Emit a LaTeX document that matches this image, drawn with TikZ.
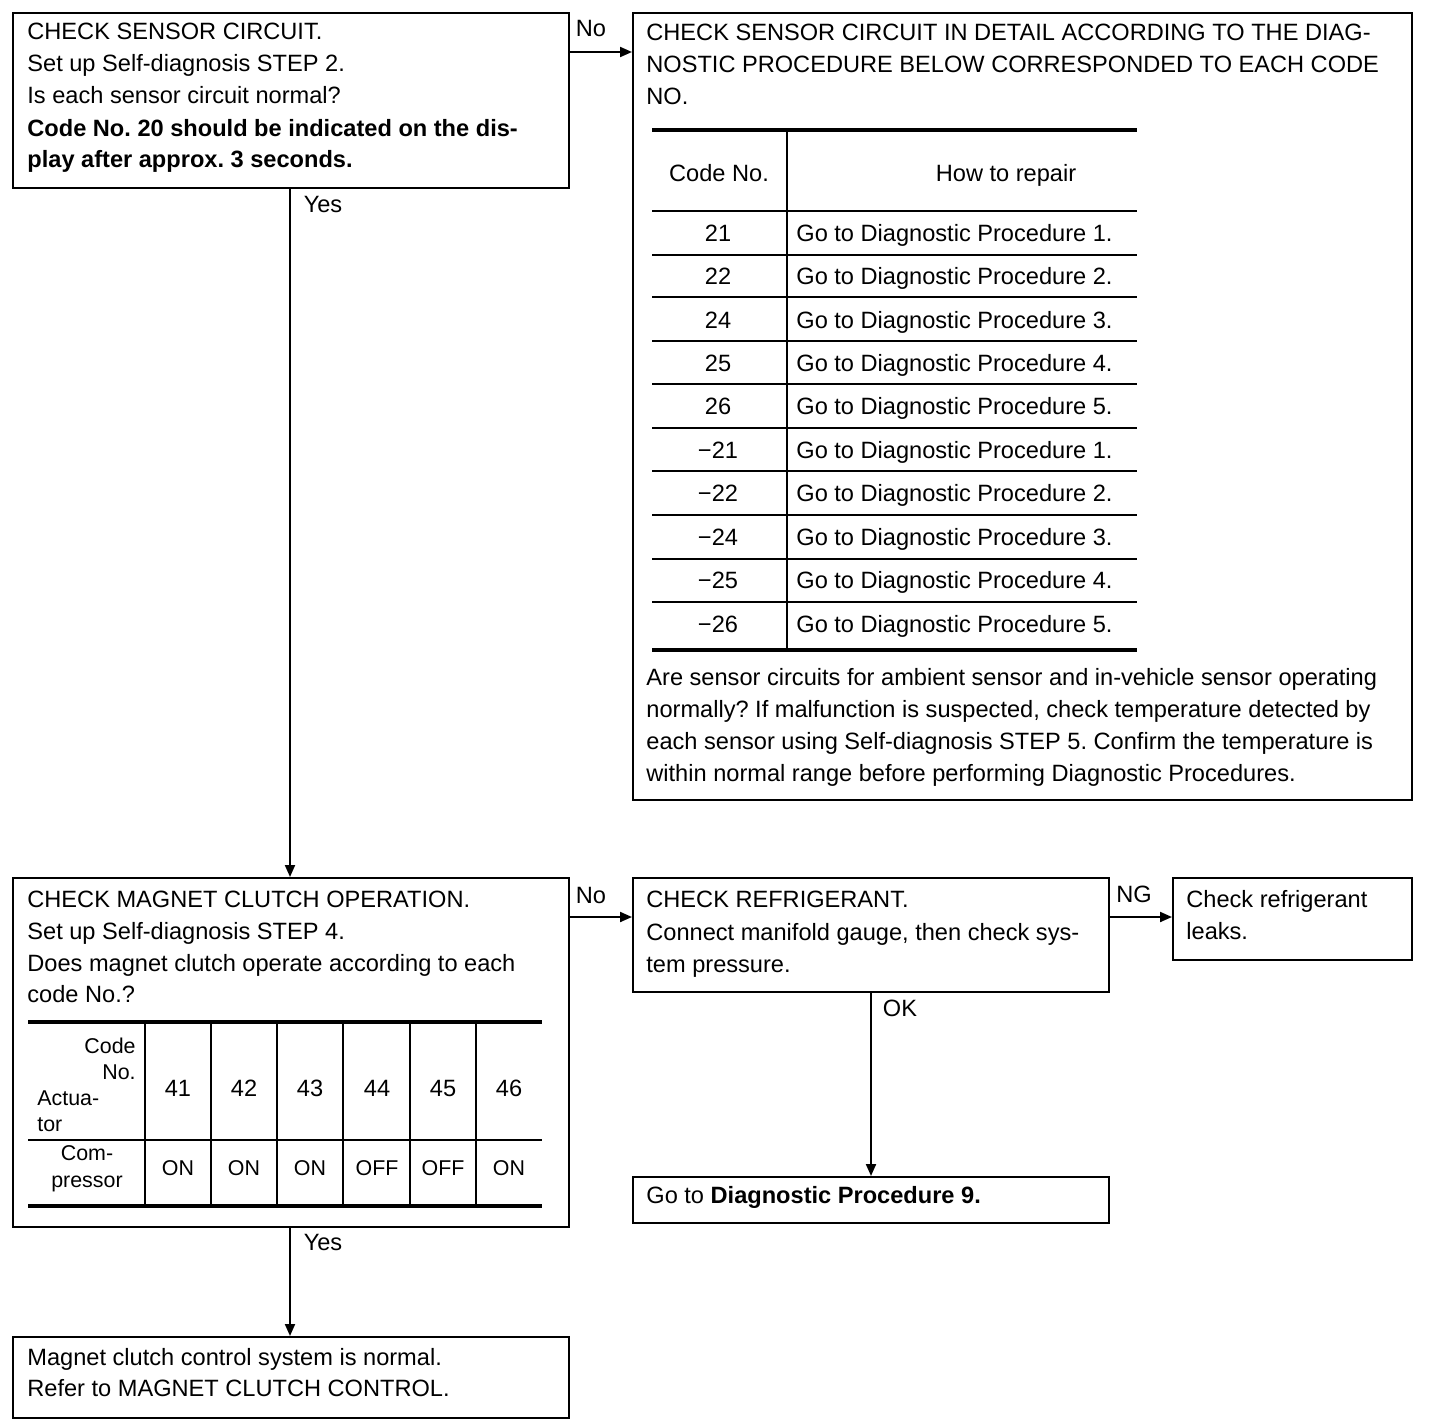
\documentclass[tikz,border=0pt]{standalone}
\usepackage{fontspec}
\setmainfont{Liberation Sans}
\usetikzlibrary{arrows.meta}
\begin{document}
\frenchspacing
\begin{tikzpicture}[x=0.5pt,y=-0.5pt,
 box/.style={draw, line width=1pt, anchor=north west, inner sep=0pt},
 tx/.style={anchor=base west, inner sep=0pt, font=\fontsize{11.8}{16}\selectfont},
 txb/.style={anchor=base west, inner sep=0pt, font=\fontsize{11.8}{16}\selectfont\bfseries},
 tc/.style={anchor=base, inner sep=0pt, font=\fontsize{11.8}{16}\selectfont},
 sm/.style={anchor=base, inner sep=0pt, font=\fontsize{10.7}{13}\selectfont},
 dg/.style={anchor=base, inner sep=0pt, font=\fontsize{11.8}{13}\selectfont},
 arr/.style={line width=1pt, -{Triangle[length=6pt,width=5pt]}},
 lab/.style={anchor=base, inner sep=0pt, font=\fontsize{11.8}{16}\selectfont},
 thk/.style={line width=2pt},
 mid/.style={line width=1.3pt},
 thn/.style={line width=0.7pt}]
\useasboundingbox (0,0) rectangle (1440,1424);

% boxes
\node[box, minimum width=278pt, minimum height=87.5pt] (b1) at (12,12) {};
\node[box, minimum width=389.5pt, minimum height=393.5pt] (b2) at (632,12) {};
\node[box, minimum width=278pt, minimum height=174.5pt] (b3) at (12,877) {};
\node[box, minimum width=238pt, minimum height=57pt] (b4) at (632,877) {};
\node[box, minimum width=119.5pt, minimum height=41pt] (b5) at (1172,877) {};
\node[box, minimum width=238pt, minimum height=23pt] (b6) at (632,1176) {};
\node[box, minimum width=278pt, minimum height=40.5pt] (b7) at (12,1336) {};

% box 1 text
\node[tx] (t1a) at (27,39.5) {CHECK SENSOR CIRCUIT.};
\node[tx] (t1b) at (27,71.5) {Set up Self-diagnosis STEP 2.};
\node[tx] (t1c) at (27,103.5) {Is each sensor circuit normal?};
\node[txb] (t1d) at (27,136.5) {Code No. 20 should be indicated on the dis-};
\node[txb] (t1e) at (27,167.5) {play after approx. 3 seconds.};

% box 2 text
\node[tx] (t2a) at (646,40.5) {CHECK SENSOR CIRCUIT IN DETAIL ACCORDING TO THE DIAG-};
\node[tx] (t2b) at (646,72.5) {NOSTIC PROCEDURE BELOW CORRESPONDED TO EACH CODE};
\node[tx] (t2c) at (646,104.5) {NO.};

% table in box 2
\draw[thk] (652,130) -- (1137,130);
\draw[thn] (652,211) -- (1137,211);
\draw[thn] (652,255) -- (1137,255);
\draw[mid] (652,297) -- (1137,297);
\draw[mid] (652,341) -- (1137,341);
\draw[thn] (652,384) -- (1137,384);
\draw[thn] (652,428) -- (1137,428);
\draw[mid] (652,471) -- (1137,471);
\draw[thn] (652,515) -- (1137,515);
\draw[thn] (652,559) -- (1137,559);
\draw[thn] (652,602) -- (1137,602);
\draw[thk] (652,650) -- (1137,650);
\draw[line width=1.1pt] (787,130) -- (787,650);

\node[tc] (h1) at (719,181.5) {Code No.};
\node[tc] (h2) at (1006,181.5) {How to repair};

\node[tc] (k1) at (718,241.5) {21};
\node[tc] (k2) at (718,284.5) {22};
\node[tc] (k3) at (718,328.5) {24};
\node[tc] (k4) at (718,371.5) {25};
\node[tc] (k5) at (718,414.5) {26};
\node[tc] (k6) at (718,458.5) {−21};
\node[tc] (k7) at (718,501.5) {−22};
\node[tc] (k8) at (718,545.5) {−24};
\node[tc] (k9) at (718,588.5) {−25};
\node[tc] (k10) at (718,632.5) {−26};

\node[tx] (r1) at (796,241.5) {Go to Diagnostic Procedure 1.};
\node[tx] (r2) at (796,284.5) {Go to Diagnostic Procedure 2.};
\node[tx] (r3) at (796,328.5) {Go to Diagnostic Procedure 3.};
\node[tx] (r4) at (796,371.5) {Go to Diagnostic Procedure 4.};
\node[tx] (r5) at (796,414.5) {Go to Diagnostic Procedure 5.};
\node[tx] (r6) at (796,458.5) {Go to Diagnostic Procedure 1.};
\node[tx] (r7) at (796,501.5) {Go to Diagnostic Procedure 2.};
\node[tx] (r8) at (796,545.5) {Go to Diagnostic Procedure 3.};
\node[tx] (r9) at (796,588.5) {Go to Diagnostic Procedure 4.};
\node[tx] (r10) at (796,632.5) {Go to Diagnostic Procedure 5.};

\node[tx] (p1) at (646,685.5) {Are sensor circuits for ambient sensor and in-vehicle sensor operating};
\node[tx] (p2) at (646,717.5) {normally? If malfunction is suspected, check temperature detected by};
\node[tx] (p3) at (646,749.5) {each sensor using Self-diagnosis STEP 5. Confirm the temperature is};
\node[tx] (p4) at (646,781.5) {within normal range before performing Diagnostic Procedures.};

% box 3 text
\node[tx] (t3a) at (27,907.5) {CHECK MAGNET CLUTCH OPERATION.};
\node[tx] (t3b) at (27,939.5) {Set up Self-diagnosis STEP 4.};
\node[tx] (t3c) at (27,971.5) {Does magnet clutch operate according to each};
\node[tx] (t3d) at (27,1002.5) {code No.?};

% table in box 3
\draw[thk] (28,1022) -- (542,1022);
\draw[thn] (28,1140) -- (542,1140);
\draw[thk] (28,1206) -- (542,1206);
\foreach \xx in {145,211,277,343,410,476}
  \draw[line width=1pt] (\xx,1022) -- (\xx,1206);

\node[sm, anchor=base east] (c1) at (136,1053.7) {Code};
\node[sm, anchor=base east] (c2) at (136,1079.7) {No.};
\node[sm, anchor=base west] (c3) at (37,1105.7) {Actua-};
\node[sm, anchor=base west] (c4) at (37,1131.7) {tor};
\node[sm] (c5) at (87,1160.7) {Com-};
\node[sm] (c6) at (87,1187.7) {pressor};

\node[dg] (d1) at (178,1096) {41};
\node[dg] (d2) at (244,1096) {42};
\node[dg] (d3) at (310,1096) {43};
\node[dg] (d4) at (377,1096) {44};
\node[dg] (d5) at (443,1096) {45};
\node[dg] (d6) at (509,1096) {46};

\node[sm] (e1) at (178,1175.7) {ON};
\node[sm] (e2) at (244,1175.7) {ON};
\node[sm] (e3) at (310,1175.7) {ON};
\node[sm] (e4) at (377,1175.7) {OFF};
\node[sm] (e5) at (443,1175.7) {OFF};
\node[sm] (e6) at (509,1175.7) {ON};

% box 4,5,6,7 text
\node[tx] (t4a) at (646,907.5) {CHECK REFRIGERANT.};
\node[tx] (t4b) at (646,940.5) {Connect manifold gauge, then check sys-};
\node[tx] (t4c) at (646,972.5) {tem pressure.};

\node[tx] (t5a) at (1186,907.5) {Check refrigerant};
\node[tx] (t5b) at (1186,939.5) {leaks.};

\node[tx] (t6a) at (646,1203.5) {Go to \textbf{Diagnostic Procedure 9.}};

\node[tx] (t7a) at (27,1365.5) {Magnet clutch control system is normal.};
\node[tx] (t7b) at (27,1396.5) {Refer to MAGNET CLUTCH CONTROL.};

% connectors
\draw[arr] ([yshift=-20pt]b1.north east) -- ([yshift=-20pt]b2.north west);
\draw[arr] ([xshift=139pt]b1.south west) -- ([xshift=139pt]b3.north west);
\draw[arr] ([yshift=-20pt]b3.north east) -- ([yshift=-20pt]b4.north west);
\draw[arr] ([yshift=-20pt]b4.north east) -- ([yshift=-20pt]b5.north west);
\draw[arr] (b4.south) -- (b6.north);
\draw[arr] ([xshift=139pt]b3.south west) -- ([xshift=139pt]b7.north west);

% labels
\node[lab] (l1) at (591,36.5) {No};
\node[lab] (l2) at (323,212.5) {Yes};
\node[lab] (l3) at (591,903.5) {No};
\node[lab] (l4) at (1134,902.5) {NG};
\node[lab] (l5) at (900,1016.5) {OK};
\node[lab] (l6) at (323,1250.5) {Yes};
\end{tikzpicture}
\end{document}
